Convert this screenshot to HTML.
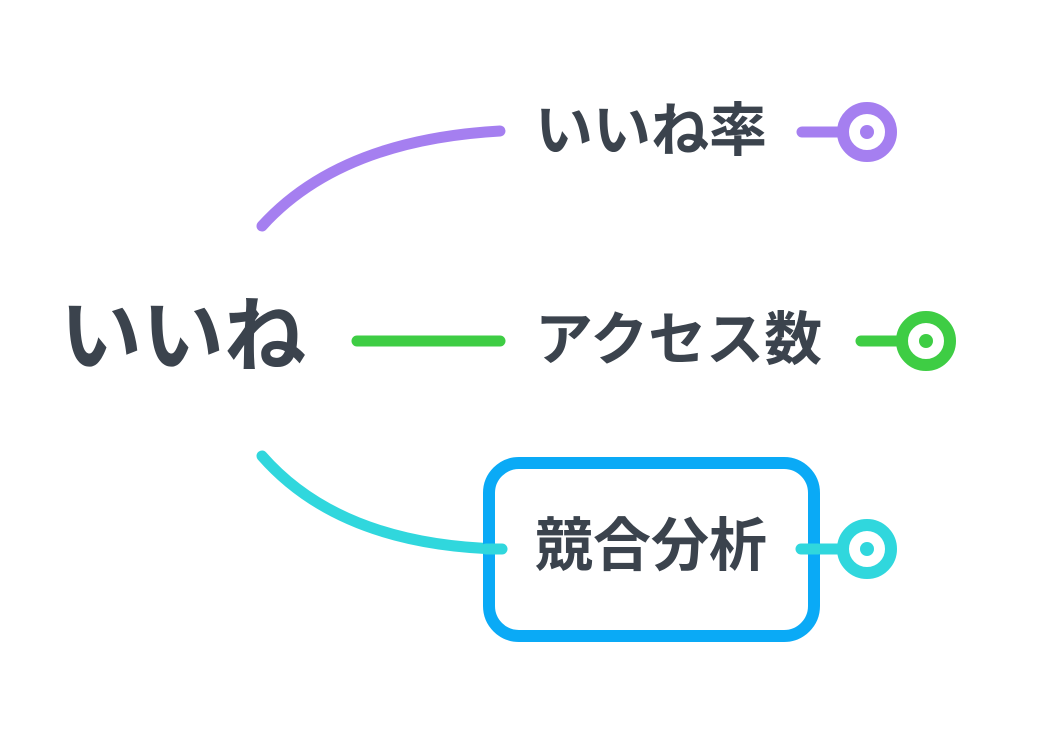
<!DOCTYPE html>
<html><head><meta charset="utf-8"><style>
html,body{margin:0;padding:0;background:#fff;}
svg{display:block}
text{font-family:"Liberation Sans","Noto Sans CJK JP",sans-serif;font-weight:bold;fill:#3b434d;}
</style></head><body>
<svg width="1041" height="729" viewBox="0 0 1041 729">
<g fill="none" stroke-linecap="round" stroke-width="11">
<path d="M262 226 Q340 140 500 131" stroke="#a57ff0"/>
<line x1="357" y1="341" x2="500" y2="341" stroke="#3ecd44"/>
<path d="M262 456 Q340 545 500 549" stroke="#30d7dd"/>
<line x1="802" y1="132" x2="842" y2="132" stroke="#a57ff0"/>
<line x1="861" y1="341" x2="901" y2="341" stroke="#3ecd44"/>
<line x1="802" y1="549" x2="842" y2="549" stroke="#30d7dd"/>
</g>
<rect x="489" y="463" width="325" height="173" rx="30" fill="#fff" stroke="#0aaaf6" stroke-width="12"/>
<g fill="none" stroke-linecap="round" stroke-width="11" stroke="#30d7dd">
<line x1="486" y1="549" x2="502" y2="549"/>
<line x1="801" y1="549" x2="818" y2="549"/>
</g>
<g fill="#fff" stroke-width="12">
<circle cx="867" cy="132" r="24" stroke="#a57ff0"/>
<circle cx="926" cy="341" r="24" stroke="#3ecd44"/>
<circle cx="867" cy="549" r="24" stroke="#30d7dd"/>
</g>
<circle cx="867" cy="132" r="7" fill="#a57ff0"/>
<circle cx="926" cy="341" r="7" fill="#3ecd44"/>
<circle cx="867" cy="549" r="7" fill="#30d7dd"/>
<text x="60" y="337" font-size="82" dominant-baseline="central">いいね</text>
<text x="535" y="131" font-size="58" dominant-baseline="central">いいね率</text>
<text x="535" y="340" font-size="58" dominant-baseline="central">アクセス数</text>
<text x="535" y="546" font-size="58" dominant-baseline="central">競合分析</text>
</svg>
</body></html>
